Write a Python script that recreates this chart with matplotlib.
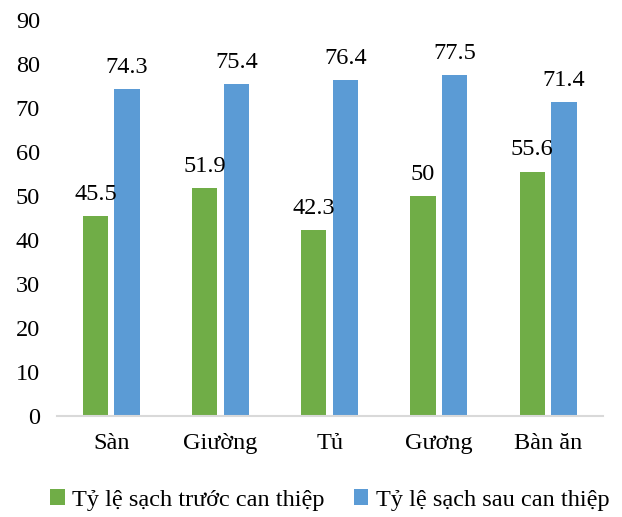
import numpy as np
import matplotlib.pyplot as plt

categories = ["Sàn", "Giường", "Tủ", "Gương", "Bàn ăn"]
truoc = [45.5, 51.9, 42.3, 50, 55.6]
sau = [74.3, 75.4, 76.4, 77.5, 71.4]
label_truoc = "Tỷ lệ sạch trước can thiệp"
label_sau = "Tỷ lệ sạch sau can thiệp"

plt.rcParams['font.family'] = ['Liberation Serif', 'DejaVu Serif']

fig = plt.figure(figsize=(6.22, 5.17), dpi=100)
ax = fig.add_axes([0.091, 0.195, 0.878, 0.766])

x = np.arange(len(categories))
w = 0.23
b1 = ax.bar(x - 0.145, truoc, w, color="#70AD47", label=label_truoc)
b2 = ax.bar(x + 0.145, sau, w, color="#5B9BD5", label=label_sau)

for bars, vals in ((b1, truoc), (b2, sau)):
    for r, v in zip(bars, vals):
        ax.annotate(f"{v:g}", (r.get_x() + r.get_width() / 2, v),
                    xytext=(0, 8), textcoords="offset points",
                    ha="center", va="bottom", fontsize=17.5)

ax.set_ylim(0, 90)
ax.set_yticks(range(0, 91, 10))
ax.set_xlim(-0.5, len(categories) - 0.5)
ax.set_xticks(x)
ax.set_xticklabels(categories)
ax.tick_params(axis="both", length=0, labelsize=17.5)
ax.tick_params(axis="x", pad=12)
ax.tick_params(axis="y", pad=12)
for s in ("top", "right", "left"):
    ax.spines[s].set_visible(False)
ax.spines["bottom"].set_color("#D9D9D9")
ax.spines["bottom"].set_linewidth(1.5)

fig.legend(loc="lower center", bbox_to_anchor=(0.53, -0.03), ncol=2, frameon=False,
           fontsize=17.5, handlelength=0.6, handleheight=0.6, handletextpad=0.3,
           columnspacing=1.2)

fig.savefig("out.png", dpi=100)
